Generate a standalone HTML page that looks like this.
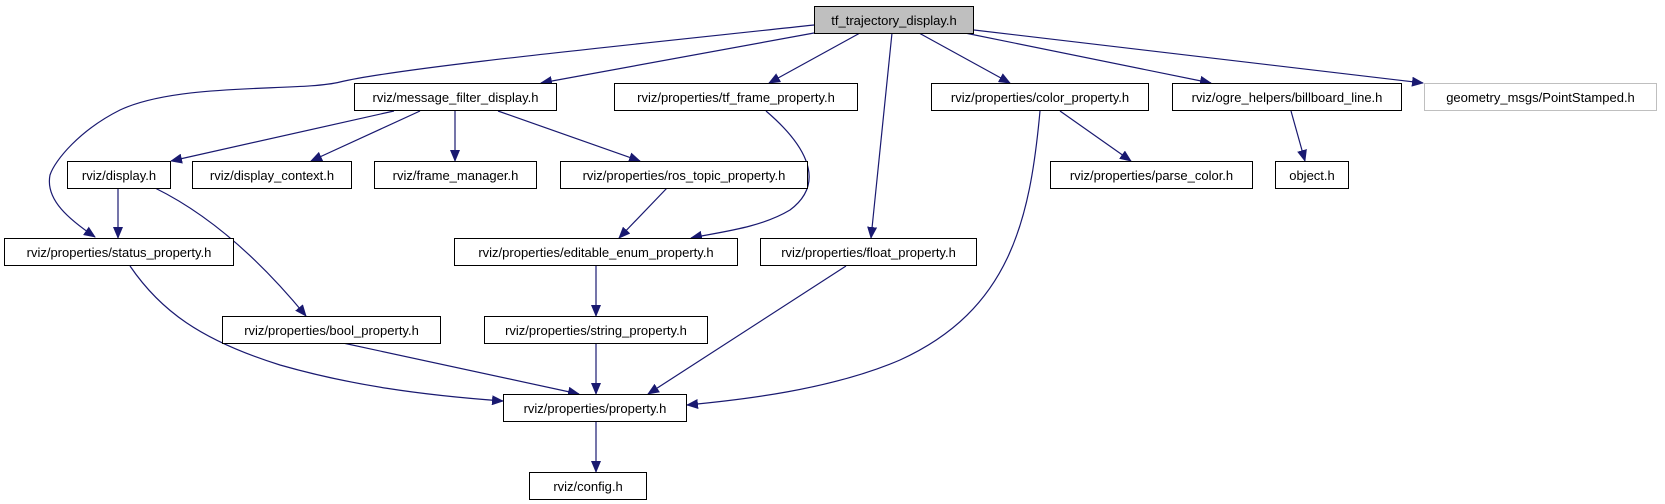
<!DOCTYPE html>
<html><head><meta charset="utf-8"><style>
html,body{margin:0;padding:0;background:#fff;}
svg{display:block;}
text{font-family:"Liberation Sans",sans-serif;font-size:13px;fill:#000;}
</style></head><body>
<svg width="1665" height="504" viewBox="0 0 1665 504" xmlns="http://www.w3.org/2000/svg">
<defs>
<marker id="a" markerWidth="12" markerHeight="10" refX="11" refY="5" orient="auto" markerUnits="userSpaceOnUse">
<path d="M0,0 L12,5 L0,10 Z" fill="#191970"/>
</marker>
</defs>
<g fill="none" stroke="#191970" stroke-width="1.2" marker-end="url(#a)">
<path d="M814,25 C600,48 400,68 340,82 C300,92 180,82 120,110 C80,130 55,160 50,175 C45,200 70,220 95,237"/>
<path d="M814,33 L541,83"/>
<path d="M860,33 L769,83"/>
<path d="M892,33 L871,238"/>
<path d="M919,33 L1010,83"/>
<path d="M965,33 L1211,83"/>
<path d="M974,30 L1423,83"/>
<path d="M394,111 L171,161"/>
<path d="M420,111 L311,161"/>
<path d="M455,111 L455,161"/>
<path d="M498,111 L640,161"/>
<path d="M766,111 C800,140 830,180 790,210 C760,228 720,232 691,238"/>
<path d="M118,188 L118,238"/>
<path d="M155,188 C210,215 260,260 306,316"/>
<path d="M667,188 L619,238"/>
<path d="M1060,111 L1131,161"/>
<path d="M1291,111 L1305,161"/>
<path d="M1040,111 C1030,220 1010,310 900,360 C830,390 740,400 687,405"/>
<path d="M846,266 L648,394"/>
<path d="M596,266 L596,316"/>
<path d="M596,343 L596,394"/>
<path d="M343,343 L579,394"/>
<path d="M130,266 C160,310 200,340 280,365 C350,385 420,395 503,401"/>
<path d="M596,421 L596,472"/>
</g>
<g stroke="#000" stroke-width="1" fill="#fff">
<rect x="814.5" y="6.5" width="159" height="27" fill="#bfbfbf"/>
<rect x="354.5" y="83.5" width="202" height="27"/>
<rect x="614.5" y="83.5" width="243" height="27"/>
<rect x="931.5" y="83.5" width="217" height="27"/>
<rect x="1172.5" y="83.5" width="229" height="27"/>
<rect x="1424.5" y="83.5" width="232" height="27" stroke="#bfbfbf"/>
<rect x="67.5" y="161.5" width="103" height="27"/>
<rect x="192.5" y="161.5" width="159" height="27"/>
<rect x="374.5" y="161.5" width="162" height="27"/>
<rect x="560.5" y="161.5" width="247" height="27"/>
<rect x="1050.5" y="161.5" width="202" height="27"/>
<rect x="1275.5" y="161.5" width="73" height="27"/>
<rect x="4.5" y="238.5" width="229" height="27"/>
<rect x="454.5" y="238.5" width="283" height="27"/>
<rect x="760.5" y="238.5" width="216" height="27"/>
<rect x="222.5" y="316.5" width="218" height="27"/>
<rect x="484.5" y="316.5" width="223" height="27"/>
<rect x="503.5" y="394.5" width="183" height="27"/>
<rect x="529.5" y="472.5" width="117" height="27"/>
</g>
<g text-anchor="middle">
<text x="894" y="25">tf_trajectory_display.h</text>
<text x="455.5" y="102">rviz/message_filter_display.h</text>
<text x="736" y="102">rviz/properties/tf_frame_property.h</text>
<text x="1040" y="102">rviz/properties/color_property.h</text>
<text x="1287" y="102">rviz/ogre_helpers/billboard_line.h</text>
<text x="1540.5" y="102">geometry_msgs/PointStamped.h</text>
<text x="119" y="180">rviz/display.h</text>
<text x="272" y="180">rviz/display_context.h</text>
<text x="455.5" y="180">rviz/frame_manager.h</text>
<text x="684" y="180">rviz/properties/ros_topic_property.h</text>
<text x="1151.5" y="180">rviz/properties/parse_color.h</text>
<text x="1312" y="180">object.h</text>
<text x="119" y="257">rviz/properties/status_property.h</text>
<text x="596" y="257">rviz/properties/editable_enum_property.h</text>
<text x="868.5" y="257">rviz/properties/float_property.h</text>
<text x="331.5" y="335">rviz/properties/bool_property.h</text>
<text x="596" y="335">rviz/properties/string_property.h</text>
<text x="595" y="413">rviz/properties/property.h</text>
<text x="588" y="491">rviz/config.h</text>
</g>
</svg>
</body></html>
